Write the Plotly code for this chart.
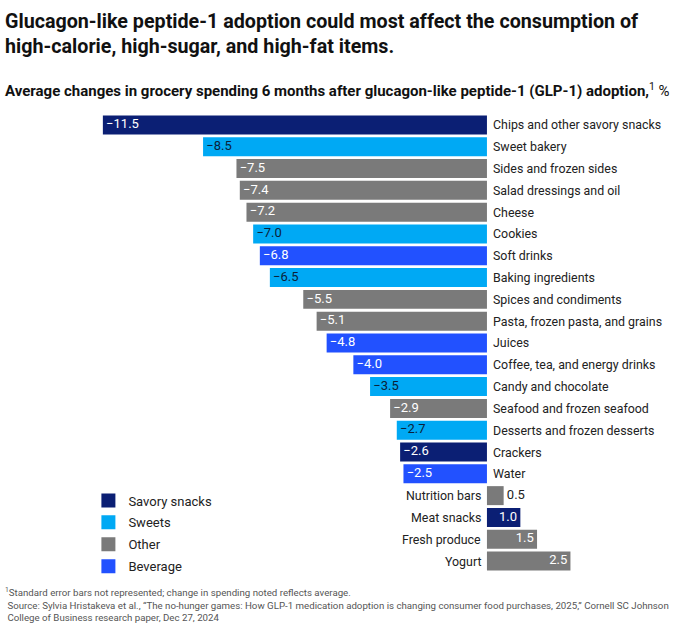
"""GLP-1 adoption vs grocery spending — horizontal bar chart."""

import plotly.graph_objects as go

categories = [
    "Chips and other savory snacks", "Sweet bakery", "Sides and frozen sides",
    "Salad dressings and oil", "Cheese", "Cookies", "Soft drinks",
    "Baking ingredients", "Spices and condiments", "Pasta, frozen pasta, and grains",
    "Juices", "Coffee, tea, and energy drinks", "Candy and chocolate",
    "Seafood and frozen seafood", "Desserts and frozen desserts", "Crackers",
    "Water", "Nutrition bars", "Meat snacks", "Fresh produce", "Yogurt",
]
values = [
    -11.5, -8.5, -7.5, -7.4, -7.2, -7.0, -6.8, -6.5, -5.5, -5.1,
    -4.8, -4.0, -3.5, -2.9, -2.7, -2.6, -2.5, 0.5, 1.0, 1.5, 2.5,
]
groups = [
    "Savory snacks", "Sweets", "Other", "Other", "Other", "Sweets", "Beverage",
    "Sweets", "Other", "Other", "Beverage", "Beverage", "Sweets", "Other",
    "Sweets", "Savory snacks", "Beverage", "Other", "Savory snacks", "Other", "Other",
]
group_order = ["Savory snacks", "Sweets", "Other", "Beverage"]

COLORS = {
    "Savory snacks": "#0b1f74",
    "Sweets": "#00a9f4",
    "Other": "#7a7a7a",
    "Beverage": "#2251ff",
}
TEXT_COLORS = {
    "Savory snacks": "white",
    "Sweets": "#0b1f3a",
    "Other": "white",
    "Beverage": "white",
}
FONT = "Roboto"


def fmt(v):
    return f"{v:.1f}".replace("-", "\u2212")


fig = go.Figure()

fig.add_trace(
    go.Bar(
        x=values,
        y=categories,
        orientation="h",
        marker=dict(color=[COLORS[g] for g in groups], line=dict(width=0)),
        showlegend=False,
        hoverinfo="skip",
    )
)

# value labels: negatives sit inside the bar tip, small positive outside
txt_pos, txt_col = [], []
for v, g in zip(values, groups):
    if v < 0:
        txt_pos.append("middle right")
        txt_col.append(TEXT_COLORS[g])
    elif v < 0.8:
        txt_pos.append("middle right")
        txt_col.append("#222222")
    else:
        txt_pos.append("middle left")
        txt_col.append(TEXT_COLORS[g])
fig.add_trace(
    go.Scatter(
        x=values,
        y=categories,
        mode="text",
        text=[" " + fmt(v) + " " for v in values],
        textposition=txt_pos,
        textfont=dict(family=FONT, size=13, color=txt_col),
        showlegend=False,
        hoverinfo="skip",
    )
)

# category labels next to the zero line
for cat, v in zip(categories, values):
    fig.add_annotation(
        x=0, y=cat, text=cat, showarrow=False,
        xanchor="left" if v < 0 else "right",
        xshift=4 if v < 0 else -4,
        font=dict(family=FONT, size=12.4, color="#222222"),
    )

# legend entries (square swatches)
for g in group_order:
    fig.add_trace(
        go.Scatter(x=[None], y=[None], name=g, mode="markers",
                   marker=dict(symbol="square", size=14, color=COLORS[g]),
                   legendgroup=g)
    )

title_lines = [
    "Glucagon-like peptide-1 adoption could most affect the consumption of",
    "high-calorie, high-sugar, and high-fat items.",
]
for i, line in enumerate(title_lines):
    fig.add_annotation(
        x=0.004, y=1 - (22 + 24 * i) / 633, xref="paper", yref="paper",
        xanchor="left", yanchor="middle", showarrow=False,
        text=f"<b>{line}</b>",
        font=dict(family=FONT, size=19.7, color="#111111"),
    )
fig.add_annotation(
    x=0.004, y=1 - 90 / 633, xref="paper", yref="paper", xanchor="left", yanchor="middle",
    align="left", showarrow=False,
    text="<b>Average changes in grocery spending 6 months after glucagon-like peptide-1 "
         "(GLP-1) adoption,</b><sup>1</sup> %",
    font=dict(family=FONT, size=15, color="#111111"),
)
fig.add_annotation(
    x=0.004, y=0.078, xref="paper", yref="paper", xanchor="left", yanchor="top",
    align="left", showarrow=False,
    text="<sup>1</sup>Standard error bars not represented; change in spending noted reflects average.<br>"
         " Source: Sylvia Hristakeva et al., \u201cThe no-hunger games: How GLP-1 medication adoption "
         "is changing consumer food purchases, 2025,\u201d Cornell SC Johnson<br>"
         " College of Business research paper, Dec 27, 2024",
    font=dict(family=FONT, size=9.7, color="#555555"),
)

fig.update_layout(
    width=680,
    height=633,
    margin=dict(l=0, r=0, t=0, b=0),
    plot_bgcolor="white",
    paper_bgcolor="white",
    bargap=0.13,
    showlegend=True,
    legend=dict(
        x=0.130, y=0.233, xanchor="left", yanchor="top",
        font=dict(family=FONT, size=13, color="#222222"),
        tracegroupgap=2,
        itemwidth=30,
        bgcolor="rgba(0,0,0,0)",
    ),
    xaxis=dict(range=[-14.58, 5.78], visible=False, fixedrange=True),
    yaxis=dict(
        type="category",
        categoryorder="array",
        categoryarray=categories,
        range=[23.30, -5.73],
        visible=False,
        fixedrange=True,
    ),
)

fig.write_html(
    "out.html",
    config={"displayModeBar": False},
    post_script="document.body.style.margin='0';",
)
